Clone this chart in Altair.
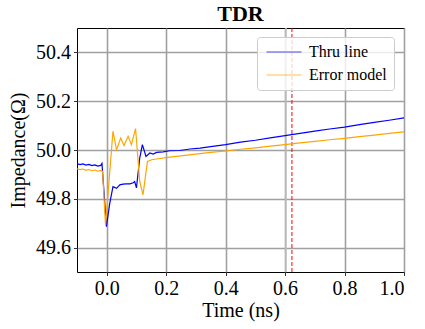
import altair as alt
import pandas as pd

# ---- data ----
thru_t = [-0.10, -0.09, -0.08, -0.07, -0.06, -0.05, -0.04, -0.03, -0.02, -0.016,
          -0.001, 0.010, 0.021, 0.033, 0.044, 0.055, 0.066, 0.078, 0.089, 0.094,
          0.100, 0.111, 0.120, 0.132, 0.145, 0.156, 0.168, 0.190, 0.212, 0.246,
          0.280, 0.314, 0.35, 0.40, 0.45, 0.50, 0.55, 0.60, 0.65, 0.70, 0.75,
          0.80, 0.85, 0.90, 0.95, 1.00]
thru_z = [49.944, 49.940, 49.943, 49.938, 49.941, 49.936, 49.939, 49.934, 49.937, 49.945,
          49.686, 49.780, 49.850, 49.843, 49.857, 49.860, 49.861, 49.861, 49.866, 49.871,
          49.845, 49.967, 50.022, 49.974, 49.988, 49.983, 49.990, 49.992, 49.997, 49.998,
          50.004, 50.008, 50.014, 50.022, 50.032, 50.040, 50.050, 50.059, 50.068, 50.077, 50.086,
          50.094, 50.104, 50.113, 50.122, 50.132]

err_t = [-0.10, -0.09, -0.08, -0.07, -0.06, -0.05, -0.04, -0.03, -0.02, -0.014,
         -0.004, 0.021, 0.033, 0.047, 0.058, 0.072, 0.083, 0.097, 0.111, 0.122,
         0.137, 0.151, 0.168, 0.212, 0.314, 0.35, 0.40, 0.45, 0.50, 0.55, 0.60,
         0.65, 0.70, 0.75, 0.80, 0.85, 0.90, 0.95, 1.00]
err_z = [49.923, 49.920, 49.922, 49.917, 49.920, 49.915, 49.918, 49.913, 49.916, 49.912,
         49.692, 50.077, 50.001, 50.049, 50.018, 50.056, 50.022, 50.088, 49.871, 49.816,
         49.953, 49.960, 49.963, 49.971, 49.985, 49.990, 49.996, 50.003, 50.009, 50.016, 50.022,
         50.029, 50.035, 50.042, 50.048, 50.055, 50.061, 50.068, 50.074]

series_names = ["Thru line", "Error model"]
series_colors = ["#0000ff", "#ffa500"]

x_ticks = [0.0, 0.2, 0.4, 0.6, 0.8, 1.0]
y_ticks = [49.6, 49.8, 50.0, 50.2, 50.4]

gray_vline = [0.603]
red_vline = [0.623]

FONT = "Liberation Serif, Times New Roman, serif"

df = pd.concat([
    pd.DataFrame({"t": thru_t, "z": thru_z, "series": series_names[0], "k": 0}),
    pd.DataFrame({"t": err_t, "z": err_z, "series": series_names[1], "k": 1}),
], ignore_index=True)

xscale = alt.Scale(domain=[-0.1, 1.0], nice=False, zero=False)
yscale = alt.Scale(domain=[49.5, 50.5], nice=False, zero=False)

axis_common = dict(labelFont=FONT, labelFontSize=20, labelColor="black",
                   labelFontWeight="normal", labelFontStyle="normal",
                   titleFont=FONT, titleFontSize=20, titleColor="black",
                   titleFontWeight="normal")

lines = alt.Chart(df).mark_line(strokeWidth=1.2, clip=True).encode(
    x=alt.X("t:Q", scale=xscale,
            axis=alt.Axis(values=x_ticks, format=".1f", title="Time (ns)",
                          titlePadding=2, **axis_common)),
    y=alt.Y("z:Q", scale=yscale,
            axis=alt.Axis(values=y_ticks, format=".1f", title="Impedance(Ω)",
                          titlePadding=7, **axis_common)),
    color=alt.Color("series:N",
                    scale=alt.Scale(domain=series_names, range=series_colors),
                    sort=series_names,
                    legend=alt.Legend(
                        title=None, orient="none", legendX=180, legendY=9,
                        symbolType="M-3,0H3", symbolSize=136, symbolStrokeWidth=1.2,
                        symbolOpacity=0.7, symbolOffset=12,
                        labelFont=FONT, labelFontSize=16, labelColor="black",
                        labelFontWeight="normal", labelFontStyle="normal",
                        fillColor="rgba(255,255,255,0.8)", strokeColor="#cccccc",
                        cornerRadius=3, padding=7, rowPadding=7, labelOffset=17)),
    detail="k:N",
    order="k:Q",
)

gray = alt.Chart(pd.DataFrame({"t": gray_vline})).mark_rule(
    color="#c0c0c0", strokeWidth=1.5).encode(x=alt.X("t:Q", scale=xscale))
red = alt.Chart(pd.DataFrame({"t": red_vline})).mark_rule(
    color="#ff0000", strokeWidth=1, strokeDash=[4, 2]).encode(x=alt.X("t:Q", scale=xscale))

chart = alt.layer(gray, red, lines).properties(
    width=327, height=244,
    autosize=alt.AutoSizeParams(type="none"),
    padding={"left": 77, "top": 28, "right": 21, "bottom": 57},
    title=alt.Title("TDR", font=FONT, fontSize=22, fontWeight="bold",
                    anchor="middle", offset=1, color="black"),
).configure(
    font=FONT
).configure_view(
    stroke="black", strokeWidth=1
).configure_axis(
    grid=True, gridColor="#a0a0a0", gridWidth=1.6,
    domain=False, ticks=True, tickColor="black", tickSize=3.5, tickWidth=0.8,
    labelPadding=3,
)

chart.save("out.html", embed_options={"renderer": "svg", "actions": False})
